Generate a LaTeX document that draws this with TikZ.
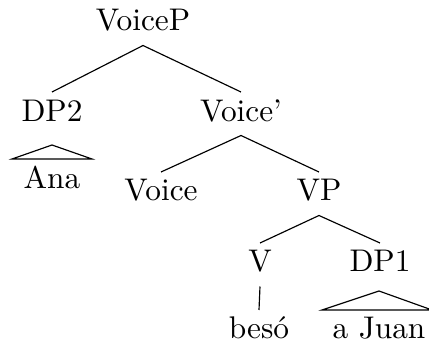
\documentclass[tikz,border=0pt]{standalone}
\begin{document}
\begin{tikzpicture}[x=0.3448pt,y=-0.3448pt,
  lab/.style={anchor=base,inner sep=0pt,text height=9.8pt,text depth=4.8pt,font=\fontsize{10.8}{13}\selectfont},
  edge/.style={line width=0.4pt}]
\useasboundingbox (0,0) rectangle (429,347);
\node[lab] (voicep) at (143,31) {VoiceP};
\node[lab] (dp2) at (52,121) {DP2};
\node[lab] (voicebar) at (241,121) {Voice'};
\node[lab] (ana) at (52,188) {Ana};
\node[lab] (voice) at (161,201) {Voice};
\node[lab] (vp) at (319,201) {VP};
\node[lab] (v) at (260,272) {V};
\node[lab] (dp1) at (380,272) {DP1};
\node[lab] (beso) at (259,339) {besó};
\node[lab] (ajuan) at (379,339) {a Juan};
\draw[edge] (dp2.north) -- (voicep.south) -- (voicebar.north);
\draw[edge] (voice.north) -- (voicebar.south) -- (vp.north);
\draw[edge] (v.north) -- (vp.south) -- (dp1.north);
\draw[edge] (v.south) -- (beso.north);
\coordinate (t2) at (52,145);
\coordinate (t1) at (379,291);
\draw[edge] (t2) -- ([xshift=40*0.3448pt]ana.north -| t2) -- ([xshift=-40*0.3448pt]ana.north -| t2) -- cycle;
\draw[edge] (t1) -- ([xshift=53*0.3448pt]ajuan.north -| t1) -- ([xshift=-57*0.3448pt]ajuan.north -| t1) -- cycle;
\end{tikzpicture}
\end{document}
